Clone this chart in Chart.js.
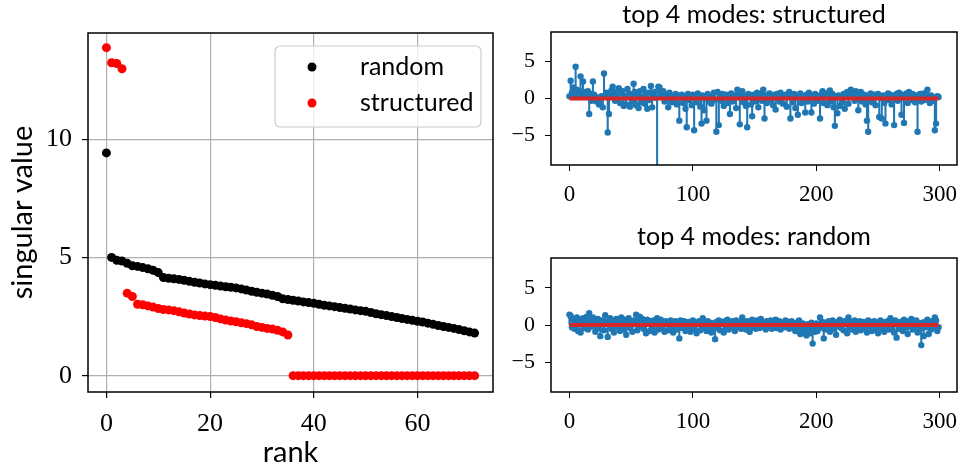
<!DOCTYPE html>
<html>
<head>
<meta charset="utf-8">
<script src="https://cdn.jsdelivr.net/npm/chart.js@4.4.0/dist/chart.umd.min.js"></script>
<style>
  body { margin: 0; background: #fff; }
  #wrap { position: relative; width: 961px; height: 470px; }
  canvas { position: absolute; }
</style>
</head>
<body>
<div id="wrap">
  <canvas id="rankChart" width="500" height="470" style="left:0;top:0"></canvas>
  <canvas id="structChart" width="461" height="220" style="left:500px;top:0"></canvas>
  <canvas id="randChart" width="461" height="250" style="left:500px;top:220px"></canvas>
</div>
<script>
// singular values per rank
const randomSV = [
  9.42, 5.00, 4.88, 4.85, 4.75, 4.65, 4.62, 4.57, 4.52, 4.46,
  4.36, 4.15, 4.12, 4.10, 4.07, 4.03, 3.99, 3.95, 3.92, 3.88,
  3.85, 3.82, 3.79, 3.76, 3.74, 3.71, 3.67, 3.62, 3.57, 3.53,
  3.49, 3.45, 3.40, 3.35, 3.25, 3.22, 3.19, 3.16, 3.12, 3.09,
  3.06, 3.02, 2.98, 2.95, 2.92, 2.88, 2.85, 2.82, 2.78, 2.75,
  2.72, 2.67, 2.62, 2.58, 2.54, 2.50, 2.46, 2.42, 2.38, 2.34,
  2.30, 2.27, 2.22, 2.17, 2.12, 2.08, 2.04, 2.00, 1.95, 1.90,
  1.85, 1.80
];
const structuredSV = [
  13.87, 13.23, 13.20, 12.98, 3.49, 3.35, 3.02, 3.00, 2.95, 2.90,
  2.84, 2.80, 2.78, 2.75, 2.70, 2.65, 2.61, 2.57, 2.54, 2.52,
  2.50, 2.46, 2.40, 2.35, 2.31, 2.28, 2.24, 2.20, 2.15, 2.08,
  2.04, 2.00, 1.97, 1.92, 1.85, 1.72,
  0, 0, 0, 0, 0, 0, 0, 0, 0, 0, 0, 0, 0, 0, 0, 0, 0, 0,
  0, 0, 0, 0, 0, 0, 0, 0, 0, 0, 0, 0, 0, 0, 0, 0, 0, 0
];

// top 4 modes, structured (one value per sample)
const structModes = [
  0.3, 2.4, 0.8, 1.5, 0.6, 4.3, 1.2, 0.2, 1.0, 3.0, 0.5, 2.3, 0.4, 0.9, 0.3, 1.0, -2.1, 0.6, -0.3, 2.3,
  0.5, 0.2, -0.4, 0.1, -0.8, -0.5, 0.3, -1.2, 3.4, 0.4, 0.8, -4.6, -2.1, 0.6, 1.1, 1.6, 0.9, -0.3, 0.2, 0.7,
  1.4, -0.6, 0.8, 1.0, -1.0, 0.3, -0.8, 1.3, 0.5, -1.1, 0.6, -0.4, 2.0, 0.9, -0.9, 0.4, -1.3, 1.0, -0.5, 0.2,
  1.3, -0.7, 0.5, -1.4, 0.8, -0.2, 1.7, -1.2, 0.4, 0.9, 0.1, -25, 1.6, 1.5, 0.6, 0.3, 1.0, -0.4, 0.2, 0.5,
  -1.2, 0.8, 0.3, -0.5, 0.2, -0.3, 0.6, -0.8, 0.4, -3.0, 0.1, 0.5, -0.6, 0.3, -1.4, -3.9, 0.6, -0.2, 0.4, -0.9,
  0.5, -4.3, 0.2, -0.5, 0.7, 0.3, -1.1, -3.4, 0.4, -1.6, 0.1, -3.0, 0.6, -0.4, 0.2, -0.7, 0.3, 0.8, -0.2, -4.5,
  0.9, -3.6, 0.4, -0.3, 0.6, -1.0, 0.2, 0.5, -0.6, 0.3, -2.1, 0.7, -0.4, 0.1, 0.4, -1.3, 1.2, 0.6, -3.5, 0.3,
  1.0, -0.5, 0.4, -1.0, -3.9, 0.6, 0.2, -0.8, -2.4, 0.5, 0.3, -0.4, 0.8, -1.2, 0.1, 0.6, -0.3, 1.2, -2.7, 0.4,
  -0.6, 0.3, 0.7, -0.2, 0.5, -0.9, 0.2, -1.5, 0.6, 0.1, -0.4, 0.8, 0.3, -0.7, 0.2, 0.5, -1.1, 0.4, 0.9, -2.7,
  0.3, -0.5, 0.6, -1.3, 0.2, -2.2, 0.4, 0.7, -0.6, 0.3, 0.1, -1.9, 0.5, -0.4, 0.8, 0.2, -1.9, 0.3, -0.7, 0.6,
  0.4, -0.3, 0.2, -2.7, 0.5, 1.0, -0.6, 0.3, 0.7, -0.9, 0.2, 1.1, -0.4, 0.6, -1.2, -3.7, 0.3, -2.0, 0.4, -1.0,
  0.2, -0.5, 0.6, -1.4, 0.3, 0.9, -0.7, 0.5, 1.2, 0.2, 0.8, -0.3, 1.0, 0.4, -1.6, 0.6, 0.9, -0.4, 0.3, 0.5,
  -0.8, -3.0, -4.5, 0.4, 0.7, -0.5, 0.2, 0.5, -0.9, 0.3, 0.6, -2.5, 0.1, -2.7, 0.4, -0.6, -3.4, 0.3, 0.7, -0.2,
  0.5, -0.8, 0.2, -3.6, 0.4, 0.6, -0.3, 0.8, 0.1, -2.2, 0.5, -3.3, 0.3, 0.7, -0.6, 0.9, 0.4, -0.2, 0.6, 0.3,
  -0.5, 0.4, -4.5, 0.2, 0.6, -0.4, 0.3, 0.7, -0.2, 0.5, 1.2, 0.3, -0.6, 0.4, 0.2, -0.3, -4.3, -3.4, 0.3, 0.2
];

// top 4 modes, random
const randModes = [
  1.4, 1.2, -0.3, 0.8, -0.5, 0.4, 1.0, -0.8, 0.2, -1.0, 0.6, 0.9, -0.4, 0.3, 1.1, -0.6, 1.6, 0.5, -0.2, 1.0,
  0.7, -0.9, 0.3, 0.8, -0.4, -1.5, 0.6, 0.2, -0.7, 1.3, 0.4, -1.6, 0.1, 0.9, -0.5, 0.6, -1.0, 0.3, 0.8, -0.3,
  0.5, -0.8, 1.0, 0.2, -0.6, 0.7, -1.3, 0.4, 0.9, -0.4, 0.3, -0.9, 0.6, 0.1, 1.4, -0.7, 0.5, 1.1, -0.2, 0.8,
  -0.5, 0.3, -1.1, 0.7, 0.2, -0.8, 0.5, -0.3, 0.6, -1.0, 0.4, 0.9, -0.6, 0.2, 0.7, -0.4, 0.3, -0.9, 0.5, 0.1,
  -0.7, 0.4, 0.6, -0.3, -1.0, 0.2, 0.5, -0.6, 0.3, -1.8, 0.6, -0.4, 0.1, 0.5, -0.8, 0.3, -0.2, 0.4, -0.9, 0.2,
  0.6, -0.5, 0.3, -1.1, 0.2, 0.5, -0.7, 0.4, 0.9, -0.3, 0.1, -0.8, 0.5, -0.4, 0.3, -1.0, 0.2, -0.5, -1.9, 0.4,
  -0.3, 0.6, -0.7, 0.2, 0.4, -1.0, 0.5, -0.2, 0.7, -0.6, 0.3, -0.4, 0.5, 0.1, -0.8, 0.6, -0.3, 0.2, 0.4, -0.5,
  1.0, -0.2, 0.3, -0.6, 0.5, 0.1, -0.9, 0.4, 0.7, -0.3, 0.2, -0.5, 0.6, 0.3, -0.4, 0.8, -0.2, 0.4, 0.1, -0.6,
  0.5, -0.3, 0.2, 0.6, -0.5, 0.3, -0.1, 0.7, -0.4, 0.2, 0.5, -0.6, 0.3, 0.1, -0.3, 0.6, -0.2, 0.4, -0.5, 0.3,
  0.5, -0.4, 0.2, -0.8, 0.3, -0.3, 0.6, -1.2, -0.5, 0.2, -1.0, -0.3, -1.4, 0.1, -0.7, -1.1, 0.3, -2.5, -0.6, -0.9,
  0.2, -0.8, -0.4, 1.0, -0.3, 0.4, -1.8, -0.6, 0.3, -0.2, 0.5, -0.9, 0.1, 0.6, -0.5, 0.3, -1.3, 0.4, -0.2, 0.7,
  -0.4, 0.3, -0.7, 0.5, 0.2, -1.1, 1.0, -0.3, 0.4, -0.6, 0.2, 0.6, -0.9, 0.3, -0.2, 0.5, -0.7, 0.1, 0.4, -0.5,
  0.3, -1.0, 0.6, -0.2, 0.4, -0.8, 0.2, 0.5, -0.5, 0.3, -1.1, 0.1, 0.6, -0.4, 0.2, -0.9, 0.4, -0.3, 0.5, -0.6,
  0.9, -0.4, 0.3, -1.0, 0.6, -1.7, 0.2, -0.5, 0.4, 0.1, -0.8, 0.7, -0.3, 0.2, -1.2, 0.5, -0.2, 0.8, -0.6, 0.3,
  -0.4, 0.6, -1.0, 0.2, -0.5, -2.7, 0.3, -1.5, 0.4, -0.3, 0.7, -1.2, 0.2, -0.6, 0.5, -0.2, 1.0, 0.6, -0.8, -0.3
];

// tick labels
const rankTicks = [0, 20, 40, 60];
const svTicks = [0, 5, 10];
const modeXTicks = [0, 100, 200, 300];
const modeYTicks = [-5, 0, 5];

const serif = "'Liberation Serif', 'DejaVu Serif', serif";
const sans = "Lato, 'DejaVu Sans', sans-serif";
const C0 = '#1f77b4';

const minus = v => String(v).replace('-', '\u2212');
const fixTicks = list => scale => { scale.ticks = list.map(v => ({ value: v })); };

// black box round the axes, like matplotlib spines
const frame = {
  id: 'frame',
  afterDatasetsDraw(chart) {
    const { ctx, chartArea: a } = chart;
    ctx.save();
    ctx.strokeStyle = '#000';
    ctx.lineWidth = 1.5;
    ctx.strokeRect(a.left, a.top, a.right - a.left, a.bottom - a.top);
    ctx.restore();
  }
};

// legend box inside the plot, upper right
const boxLegend = {
  id: 'boxLegend',
  afterDraw(chart) {
    const ctx = chart.ctx;
    const x = 275, y = 46, w = 206, h = 81;
    ctx.save();
    ctx.beginPath();
    ctx.roundRect(x, y, w, h, 5);
    ctx.fillStyle = 'rgba(255,255,255,0.8)';
    ctx.fill();
    ctx.strokeStyle = '#cccccc';
    ctx.lineWidth = 1.2;
    ctx.stroke();
    chart.data.datasets.forEach((ds, i) => {
      const cy = 67 + i * 36;
      ctx.beginPath();
      ctx.arc(312, cy, 4.5, 0, Math.PI * 2);
      ctx.fillStyle = ds.backgroundColor;
      ctx.fill();
      ctx.fillStyle = '#000';
      ctx.font = '25px ' + sans;
      ctx.textBaseline = 'middle';
      ctx.fillText(ds.label, 360, cy);
    });
    ctx.restore();
  }
};

new Chart(document.getElementById('rankChart'), {
  type: 'scatter',
  data: {
    datasets: [
      { label: 'random', data: randomSV.map((v, i) => ({ x: i, y: v })),
        backgroundColor: '#000', borderWidth: 0, pointRadius: 4.5, order: 1 },
      { label: 'structured', data: structuredSV.map((v, i) => ({ x: i, y: v })),
        backgroundColor: '#ff0000', borderWidth: 0, pointRadius: 4.5, order: 0 }
    ]
  },
  options: {
    responsive: false,
    animation: false,
    layout: { padding: { top: 33, right: 7, left: 0, bottom: 0 } },
    plugins: { legend: { display: false }, tooltip: { enabled: false } },
    scales: {
      x: {
        min: -3.55, max: 74.55,
        afterBuildTicks: fixTicks(rankTicks),
        afterFit(s) { s.height = 78; s.paddingLeft = 0; s.paddingRight = 0; },
        grid: { color: '#b0b0b0', lineWidth: 1.2, tickColor: '#000', tickLength: 6 },
        border: { display: false },
        ticks: { color: '#000', padding: 11, maxRotation: 0, font: { family: serif, size: 26 } },
        title: { display: true, text: 'rank', color: '#000', padding: { bottom: 0 },
                 font: { family: sans, size: 29 } }
      },
      y: {
        min: -0.69, max: 14.49,
        afterBuildTicks: fixTicks(svTicks),
        afterFit(s) { s.width = 88; s.paddingTop = 0; s.paddingBottom = 0; },
        grid: { color: '#b0b0b0', lineWidth: 1.2, tickColor: '#000', tickLength: 6 },
        border: { display: false },
        ticks: { color: '#000', padding: 10, font: { family: serif, size: 26 } },
        title: { display: true, text: 'singular value', color: '#000', padding: { top: 5 },
                 font: { family: sans, size: 29 } }
      }
    }
  },
  plugins: [frame, boxLegend]
});

function stemChart(id, title, values, xHeight, titlePad) {
  const pts = values.map((v, i) => ({ x: i, y: v }));
  return new Chart(document.getElementById(id), {
    type: 'bar',
    data: {
      datasets: [
        { type: 'line', data: [{ x: 0, y: 0 }, { x: values.length - 1, y: 0 }],
          borderColor: '#d62728', borderWidth: 4, pointRadius: 0, order: 0 },
        { type: 'line', data: pts, showLine: false, pointRadius: 3.2,
          pointBackgroundColor: C0, pointBorderWidth: 0, order: 1 },
        { type: 'bar', data: pts, backgroundColor: C0, barThickness: 1.4,
          borderWidth: 0, order: 2 }
      ]
    },
    options: {
      responsive: false,
      animation: false,
      layout: { padding: { top: 0, right: 4, left: 0, bottom: 0 } },
      plugins: {
        legend: { display: false },
        tooltip: { enabled: false },
        title: { display: true, text: title, color: '#000', fullSize: false,
                 padding: titlePad, font: { family: sans, size: 25, weight: 'normal' } }
      },
      scales: {
        x: {
          type: 'linear', offset: false,
          min: -14.95, max: 313.95,
          afterBuildTicks: fixTicks(modeXTicks),
          afterFit(s) { s.height = xHeight; s.paddingLeft = 0; s.paddingRight = 0; },
          grid: { offset: false, drawOnChartArea: false, tickColor: '#000', tickLength: 6 },
          border: { display: false },
          ticks: { color: '#000', padding: 10, maxRotation: 0, font: { family: serif, size: 23 } }
        },
        y: {
          min: -9, max: 9,
          afterBuildTicks: fixTicks(modeYTicks),
          afterFit(s) { s.width = 51; s.paddingTop = 0; s.paddingBottom = 0; },
          grid: { drawOnChartArea: false, tickColor: '#000', tickLength: 6 },
          border: { display: false },
          ticks: { color: '#000', padding: 10, font: { family: serif, size: 22 },
                   callback: v => minus(v) }
        }
      }
    },
    plugins: [frame]
  });
}

stemChart('structChart', 'top 4 modes: structured', structModes, 55, { top: 0, bottom: 2 });
stemChart('randChart', 'top 4 modes: random', randModes, 78, { top: 2, bottom: 6 });
</script>
</body>
</html>
